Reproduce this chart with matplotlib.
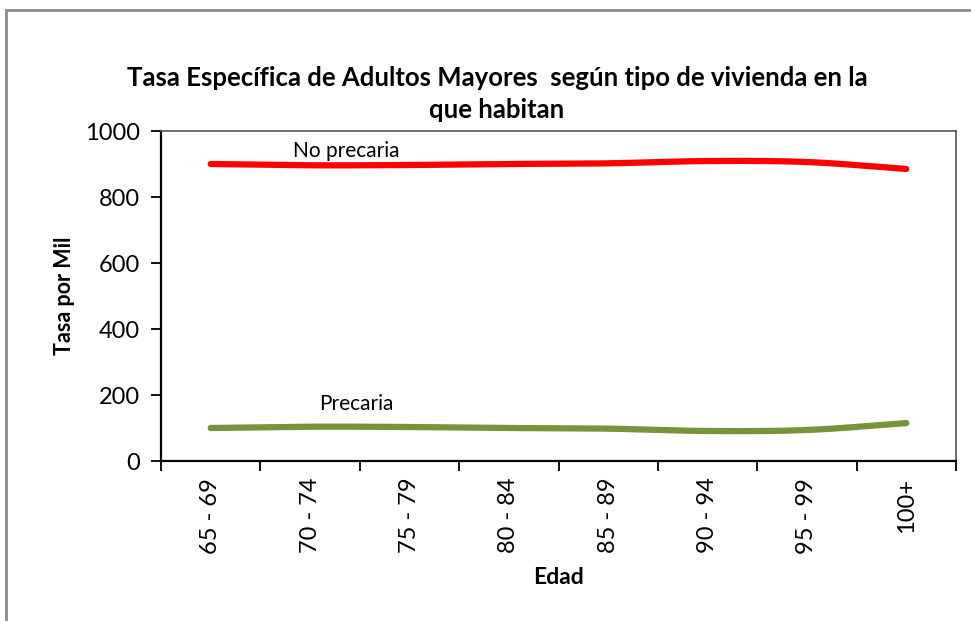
import numpy as np
import matplotlib.pyplot as plt
from matplotlib.patches import Rectangle

plt.rcParams['font.family'] = ['Lato', 'DejaVu Sans']

# datos
edades = ['65 - 69', '70 - 74', '75 - 79', '80 - 84', '85 - 89', '90 - 94', '95 - 99', '100+']
no_precaria = [900, 896, 897, 900, 902, 909, 906, 885]
precaria = [100, 104, 103, 100, 98, 91, 94, 115]


def suavizar(ys, n=20):
    """curva tipo Catmull-Rom entre los puntos (como la linea suavizada de Excel)"""
    xs = np.arange(len(ys), dtype=float)
    ys = np.asarray(ys, dtype=float)
    px = np.concatenate([[2 * xs[0] - xs[1]], xs, [2 * xs[-1] - xs[-2]]])
    py = np.concatenate([[2 * ys[0] - ys[1]], ys, [2 * ys[-1] - ys[-2]]])
    out_x, out_y = [], []
    t = np.linspace(0, 1, n, endpoint=False)
    for i in range(1, len(px) - 2):
        for arr, out in ((px, out_x), (py, out_y)):
            p0, p1, p2, p3 = arr[i - 1], arr[i], arr[i + 1], arr[i + 2]
            out.extend(0.5 * ((2 * p1) + (-p0 + p2) * t
                              + (2 * p0 - 5 * p1 + 4 * p2 - p3) * t ** 2
                              + (-p0 + 3 * p1 - 3 * p2 + p3) * t ** 3))
    out_x.append(xs[-1])
    out_y.append(ys[-1])
    return np.array(out_x), np.array(out_y)


fig = plt.figure(figsize=(9.71, 6.21), dpi=100)
ax = fig.add_axes([161 / 971, 1 - 461 / 621, (956 - 161) / 971, (461 - 131) / 621])

# marco del grafico
fig.patches.append(Rectangle((6 / 971, -0.05), 1.2, 1 - 10 / 621 + 0.05,
                             transform=fig.transFigure, fill=False,
                             edgecolor='#8c8c8c', linewidth=2))

x1, y1 = suavizar(no_precaria)
x2, y2 = suavizar(precaria)
ax.plot(x1, y1, color='#ff0000', linewidth=4.5, solid_capstyle='round')
ax.plot(x2, y2, color='#77933c', linewidth=4.5, solid_capstyle='round')

ax.text(1.36, 908, 'No precaria', ha='center', va='bottom', fontsize=15)
ax.text(1.47, 141, 'Precaria', ha='center', va='bottom', fontsize=15)

ax.set_xlim(-0.5, len(edades) - 0.5)
ax.set_ylim(0, 1000)
ax.set_yticks(range(0, 1001, 200))
ax.set_xticks(np.arange(-0.5, len(edades), 1.0), minor=False)
ax.set_xticklabels([])
ax.set_xticks(range(len(edades)), minor=True)
ax.set_xticklabels(edades, minor=True, rotation=90, fontsize=17)
ax.tick_params(axis='x', which='minor', length=0, pad=12)
ax.tick_params(axis='x', which='major', direction='out', length=7, width=1.3)
ax.tick_params(axis='y', direction='out', length=7, width=1.3, labelsize=17, pad=8)

for s in ['left', 'bottom']:
    ax.spines[s].set_linewidth(1.6)
    ax.spines[s].set_color('black')
for s in ['top', 'right']:
    ax.spines[s].set_linewidth(1.2)
    ax.spines[s].set_color('#555555')

ax.set_xlabel('Edad', fontsize=16.5, fontweight='bold', labelpad=10)
ax.set_ylabel('Tasa por Mil', fontsize=15.5, fontweight='bold', labelpad=7)

fig.text(497 / 971, 1 - 94 / 621,
         'Tasa Específica de Adultos Mayores  según tipo de vivienda en la\nque habitan',
         ha='center', va='center', fontsize=18.5, fontweight='bold', linespacing=1.45)

fig.savefig('out.png', dpi=100)
